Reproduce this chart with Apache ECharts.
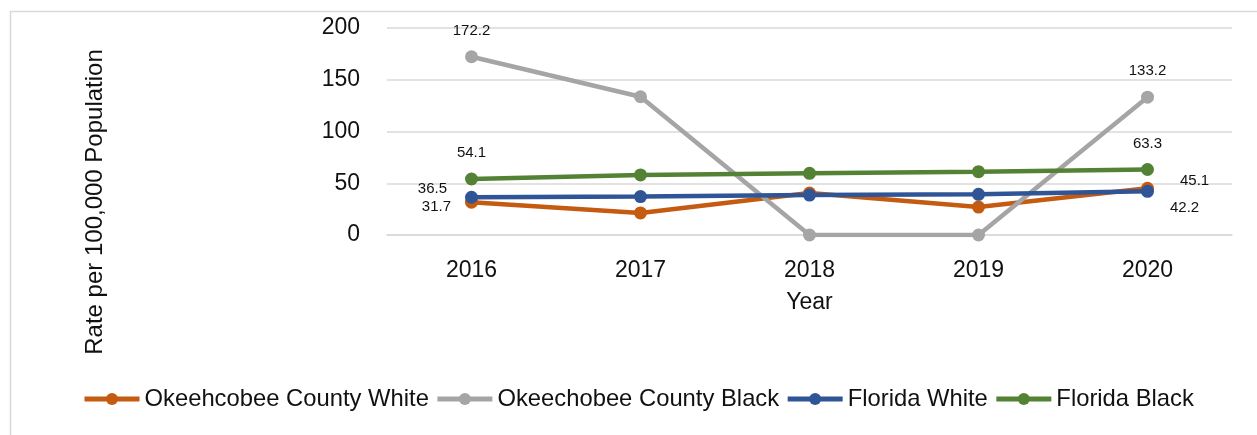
<!DOCTYPE html>
<html>
<head>
<meta charset="utf-8">
<script src="https://cdn.jsdelivr.net/npm/echarts@6/dist/echarts.min.js"></script>
<style>
html,body{margin:0;padding:0;background:#fff;}
#c{width:1257px;height:435px;}
</style>
</head>
<body>
<div id="c"></div>
<script>
const years = ['2016','2017','2018','2019','2020'];
const okeeWhite = [31.7, 21.3, 40.5, 27.0, 45.1];
const okeeBlack = [172.2, 133.6, 0, 0, 133.2];
const flWhite = [36.5, 37.1, 38.6, 39.3, 42.2];
const flBlack = [54.1, 58.0, 59.6, 61.2, 63.3];
const seriesNames = ['Okeehcobee County White','Okeechobee County Black','Florida White','Florida Black'];
const yTicks = [0, 50, 100, 150, 200];

const FONT = '"Liberation Sans", Arial, sans-serif';
const TXT = '#111111';

// label placement for first/last points
const labelCfg = [
  [{position:'left', distance:14, offset:[0,5]}, {position:'right', distance:26, offset:[0,-7]}],
  [{position:'top', distance:12, offset:[0,0]}, {position:'top', distance:12, offset:[0,0]}],
  [{position:'left', distance:18, offset:[0,-8]}, {position:'right', distance:16, offset:[0,17]}],
  [{position:'top', distance:12, offset:[0,0]}, {position:'top', distance:12, offset:[0,0]}]
];
const colors = ['#C55A11','#A5A5A5','#2F5597','#548235'];
const allData = [okeeWhite, okeeBlack, flWhite, flBlack];

function buildData(vals, idx){
  return vals.map((v,i)=>{
    if(i===0 || i===vals.length-1){
      const c = labelCfg[idx][i===0?0:1];
      return {value:v, label:{show:true, position:c.position, distance:c.distance, offset:c.offset,
        formatter:(p)=>p.value.toFixed(1), fontSize:15, fontFamily:FONT, color:TXT}};
    }
    return v;
  });
}

const chart = echarts.init(document.getElementById('c'), null, {renderer:'canvas'});
chart.setOption({
  animation:false,
  backgroundColor:'#ffffff',
  color: colors,
  grid:{left:387, right:25, top:28, height:207, containLabel:false},
  legend:{
    data: seriesNames,
    left: 77, top: 382,
    itemWidth: 55, itemHeight: 15, itemGap: 6,
    lineStyle:{width:5},
    textStyle:{fontSize:23.8, fontFamily:FONT, color:TXT}
  },
  xAxis:{
    type:'category', data: years, boundaryGap:true,
    axisLine:{show:true, lineStyle:{color:'#d9d9d9', width:1.5}},
    axisTick:{show:false},
    axisLabel:{fontSize:23, fontFamily:FONT, color:TXT, margin:24},
    name:'Year', nameLocation:'middle', nameGap:56,
    nameTextStyle:{fontSize:23, fontFamily:FONT, color:TXT}
  },
  yAxis:{
    type:'value', min:0, max:200, interval:50,
    axisLine:{show:false}, axisTick:{show:false},
    axisLabel:{fontSize:23, fontFamily:FONT, color:TXT, margin:27,
      formatter:(v)=> yTicks.includes(v) ? String(v) : ''},
    splitLine:{lineStyle:{color:'#d9d9d9', width:1.5}}
  },
  graphic:[
    {type:'rect', shape:{x:10.5, y:11.5, width:1400, height:600}, style:{fill:'none', stroke:'#d9d9d9', lineWidth:1.5}, silent:true, z:-1},
    {type:'text', x:95, y:202, rotation:Math.PI/2,
      style:{text:'Rate per 100,000 Population', fontSize:24, fontFamily:FONT, fill:TXT, textAlign:'center', textVerticalAlign:'middle'}}
  ],
  series: allData.map((vals, idx)=>({
    name: seriesNames[idx], type:'line', data: buildData(vals, idx),
    symbol:'circle', symbolSize:13, showAllSymbol:true,
    lineStyle:{width:4.5, color:colors[idx]},
    itemStyle:{color:colors[idx]},
    label:{show:false}
  }))
});
</script>
</body>
</html>
